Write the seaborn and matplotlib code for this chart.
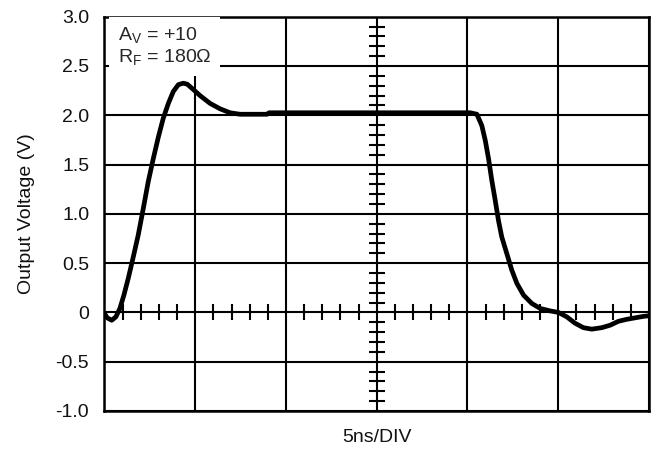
import numpy as np
import pandas as pd
import matplotlib
matplotlib.use("Agg")
import matplotlib.pyplot as plt
import seaborn as sns

# time in ns (5 ns per division, 6 divisions)
time_ns = [0.0, 0.15, 0.40, 0.63, 0.85, 1.07, 1.31, 1.59, 1.86, 2.14, 2.41, 2.69,
           2.97, 3.24, 3.52, 3.79, 4.07, 4.34, 4.56, 4.90, 5.26, 5.82, 6.37, 6.92,
           7.47, 8.57, 8.96, 9.07, 12.0, 16.0, 20.15, 20.52, 20.79, 20.98, 21.16,
           21.34, 21.53, 21.71, 21.89, 22.17, 22.44, 22.72, 23.09, 23.55, 24.01,
           24.56, 25.01, 25.47, 25.93, 26.39, 26.85, 27.40, 27.86, 28.32, 28.78,
           29.24, 29.70, 29.95]
voltage = [-0.01, -0.055, -0.08, -0.045, 0.04, 0.175, 0.345, 0.565, 0.785, 1.055,
           1.325, 1.56, 1.78, 1.97, 2.12, 2.24, 2.31, 2.325, 2.315, 2.26, 2.20, 2.12,
           2.065, 2.025, 2.01, 2.01, 2.01, 2.025, 2.025, 2.025, 2.025, 2.01, 1.895,
           1.745, 1.56, 1.34, 1.135, 0.93, 0.765, 0.595, 0.43, 0.295, 0.175, 0.09,
           0.04, 0.015, 0.0, -0.045, -0.11, -0.155, -0.17, -0.155, -0.13, -0.09,
           -0.07, -0.055, -0.04, -0.035]

y_ticks = [-1.0, -0.5, 0.0, 0.5, 1.0, 1.5, 2.0, 2.5, 3.0]
y_tick_labels = ["-1.0", "-0.5", "0", "0.5", "1.0", "1.5", "2.0", "2.5", "3.0"]
x_ticks = [0, 5, 10, 15, 20, 25, 30]

sns.set_style("white")
plt.rcParams['font.family'] = ['Liberation Sans', 'DejaVu Sans']
plt.rcParams['mathtext.fontset'] = 'custom'
plt.rcParams['mathtext.rm'] = 'Liberation Sans'
plt.rcParams['mathtext.it'] = 'Liberation Sans'

fig = plt.figure(figsize=(6.55, 4.5), dpi=100)
ax = fig.add_axes([0.1595, 0.0867, 0.8313, 0.8763])

df = pd.DataFrame({"t": time_ns, "v": voltage})
sns.lineplot(data=df, x="t", y="v", ax=ax, color="black", lw=3.4, zorder=5,
             solid_capstyle="round", solid_joinstyle="round")

ax.set_xlim(0, 30)
ax.set_ylim(-1.0, 3.0)
ax.set_xticks(x_ticks)
ax.set_xticklabels([""] * len(x_ticks))
ax.set_yticks(y_ticks)
ax.set_yticklabels(y_tick_labels)
ax.tick_params(axis="both", length=0, labelsize=14, colors="#111111", pad=11)
ax.grid(True, color="black", lw=1.5, zorder=1)
ax.set_axisbelow(True)
for s in ax.spines.values():
    s.set_color("black")
    s.set_linewidth(1.8)

# center graticule minor ticks
minor_x = [x for x in np.arange(0, 30.001, 1.0) if abs(x / 5 - round(x / 5)) > 1e-6]
minor_y = [y for y in np.arange(-1.0, 3.001, 0.1) if abs(y / 0.5 - round(y / 0.5)) > 1e-6]
ax.plot(minor_x, [0] * len(minor_x), ls="none", marker="|", ms=12, mew=1.5,
        color="black", zorder=2)
ax.plot([15] * len(minor_y), minor_y, ls="none", marker="_", ms=12, mew=1.5,
        color="black", zorder=2)

ax.set_xlabel("5ns/DIV", fontsize=14, labelpad=2, color="#111111")
ax.set_ylabel("Output Voltage (V)", fontsize=14, labelpad=15, color="#111111")

ax.text(0.025, 0.978, "A$_\\mathrm{V}$ = +10\nR$_\\mathrm{F}$ = 180\u03a9",
        transform=ax.transAxes, ha="left", va="top", fontsize=14,
        linespacing=1.1, zorder=4,
        bbox=dict(boxstyle="square,pad=0.45", fc="white", ec="none"))

fig.savefig("out.png", dpi=100)
